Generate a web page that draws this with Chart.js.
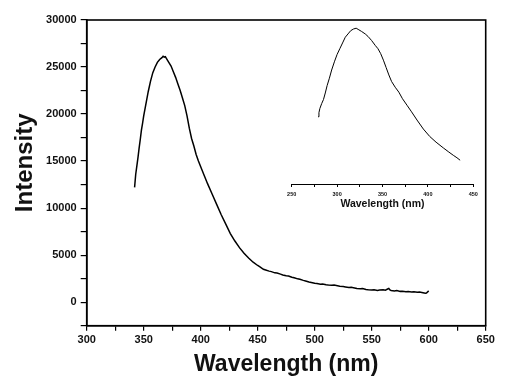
<!DOCTYPE html>
<html>
<head>
<meta charset="utf-8">
<script src="https://cdn.jsdelivr.net/npm/chart.js@4.4.0/dist/chart.umd.min.js"></script>
<style>
  html, body { margin: 0; padding: 0; background: #fff; }
  #wrap { position: relative; width: 513px; height: 389px; }
  #main { position: absolute; left: 0; top: 0; }
  #inset { position: absolute; left: 270px; top: 10px; }
</style>
</head>
<body>
<div id="wrap">
  <canvas id="main" width="513" height="389"></canvas>
  <canvas id="inset" width="230" height="215"></canvas>
</div>
<script>
// ---- Main spectrum ----
const mainWavelength = [342,343,344,345,346,347,348,349,350,352,354,356,358,360,362,364,366,367,368,369,370,372,374,376,378,380,382,384,386,388,390,392,394,396,398,400,403,406,410,414,418,422,426,430,434,438,442,446,450,452,455,457,460,462,465,467,470,472,475,477,480,482,485,487,490,492,495,497,500,502,505,507,510,512,515,517,520,522,525,527,530,532,535,537,540,542,545,547,550,552,555,557,560,562,564,565,566,567,570,572,575,577,580,582,585,587,590,592,595,597,598,600];
const mainIntensity  = [12200,13600,14500,15400,16400,17300,18300,19000,19800,21100,22400,23500,24400,25000,25500,25800,26000,26150,26050,26100,25900,25500,25100,24500,23900,23200,22500,21700,20900,19800,18500,17400,16600,15700,15000,14400,13500,12600,11500,10400,9300,8300,7300,6500,5800,5200,4700,4250,3900,3750,3500,3420,3300,3250,3120,3100,2980,2900,2820,2780,2660,2600,2480,2430,2320,2260,2150,2100,2020,1980,1910,1930,1860,1830,1800,1820,1750,1700,1660,1620,1560,1580,1500,1450,1420,1460,1360,1330,1300,1330,1250,1300,1320,1280,1400,1460,1300,1240,1200,1250,1150,1170,1100,1130,1090,1120,1060,1090,1000,940,980,1200];

// ---- Inset spectrum (relative units) ----
const insetWavelength = [279,280,281,283,285,287,289,291.5,294,297,300,303,306,309,312,315,318,321,324,327,331,334,338,342,345,348,351,354,357,360,364,368,372,377,382,388,395,402,409,417,423,428,432,435.5];
const insetIntensity  = [41,43.5,46,49,51.5,55.5,60,64.5,69.5,74.5,79,82.5,86,89.5,91.5,93.5,94.5,95,94,93,91.5,90,87.5,84.5,82.5,79.5,75.5,71,66.5,62.5,59,56,52,48,44,39,33.5,29,25.5,22,19.5,17.5,16,14.5];

// ---- Tick labels ----
const mainXTicks  = [300,350,400,450,500,550,600,650];
const mainYTicks  = [0,5000,10000,15000,20000,25000,30000];
const insetXTicks = [250,300,350,400,450];

const xTitle = 'Wavelength (nm)';
const yTitle = '   Intensity';

const FONT = "'Liberation Sans', Arial, Helvetica, sans-serif";

const toXY = (xs, ys) => xs.map((x, i) => ({ x: x, y: ys[i] }));

const framePlugin = {
  id: 'frame',
  afterDraw(chart) {
    const a = chart.chartArea, ctx = chart.ctx;
    ctx.save();
    ctx.strokeStyle = '#000';
    ctx.lineWidth = 1.6;
    ctx.strokeRect(a.left, a.top, a.right - a.left, a.bottom - a.top);
    ctx.restore();
  }
};

new Chart(document.getElementById('main'), {
  type: 'line',
  data: {
    datasets: [{
      data: toXY(mainWavelength, mainIntensity),
      borderColor: '#000',
      borderWidth: 1.5,
      pointRadius: 0,
      tension: 0,
      fill: false
    }]
  },
  options: {
    responsive: false,
    animation: false,
    devicePixelRatio: 1,
    layout: { padding: { left: 0, top: 20, right: 27.3, bottom: 0 } },
    plugins: { legend: { display: false }, tooltip: { enabled: false } },
    scales: {
      x: {
        type: 'linear', min: 300, max: 650,
        afterFit: s => { s.height = 63.3; },
        border: { color: '#000', width: 1.6 },
        grid: { drawOnChartArea: false, drawTicks: true, tickLength: 5, color: '#000', lineWidth: 1.2 },
        ticks: {
          stepSize: 25, padding: 3, color: '#111', maxRotation: 0, autoSkip: false,
          font: { family: FONT, size: 11, weight: 'bold' },
          callback: v => mainXTicks.includes(v) ? String(v) : ''
        },
        title: { display: true, text: xTitle, color: '#111', padding: { top: 0, bottom: 11 },
                 font: { family: FONT, size: 23, weight: 'bold' } }
      },
      y: {
        type: 'linear', min: -2500, max: 30000,
        afterFit: s => { s.width = 86.7; },
        border: { color: '#000', width: 1.6 },
        grid: { drawOnChartArea: false, drawTicks: true, tickLength: 6, color: '#000', lineWidth: 1.2 },
        ticks: {
          stepSize: 2500, padding: 4, color: '#111', autoSkip: false,
          font: { family: FONT, size: 11, weight: 'bold' },
          callback: v => mainYTicks.includes(v) ? String(v) : ''
        },
        title: { display: true, text: yTitle, color: '#111', padding: { top: 10.6, bottom: 0 },
                 font: { family: FONT, size: 24, weight: 'bold' } }
      }
    }
  },
  plugins: [framePlugin]
});

new Chart(document.getElementById('inset'), {
  type: 'line',
  data: {
    datasets: [{
      data: toXY(insetWavelength, insetIntensity),
      borderColor: '#000',
      borderWidth: 1,
      pointRadius: 0,
      tension: 0,
      fill: false
    }]
  },
  options: {
    responsive: false,
    animation: false,
    devicePixelRatio: 1,
    layout: { padding: { left: 21.7, top: 10, right: 26.7, bottom: 0 } },
    plugins: { legend: { display: false }, tooltip: { enabled: false } },
    scales: {
      x: {
        type: 'linear', min: 250, max: 450,
        afterFit: s => { s.height = 41; },
        border: { color: '#000', width: 1 },
        grid: { drawOnChartArea: false, drawTicks: true, tickLength: 3, color: '#000', lineWidth: 1 },
        ticks: {
          stepSize: 25, padding: 4, color: '#111', maxRotation: 0, autoSkip: false,
          font: { family: FONT, size: 5.5, weight: 'bold' },
          callback: v => insetXTicks.includes(v) ? String(v) : ''
        },
        title: { display: true, text: xTitle, color: '#111', padding: { top: 0, bottom: 15 },
                 font: { family: FONT, size: 10.5, weight: 'bold' } }
      },
      y: { display: false, min: 0, max: 100 }
    }
  }
});
</script>
</body>
</html>
